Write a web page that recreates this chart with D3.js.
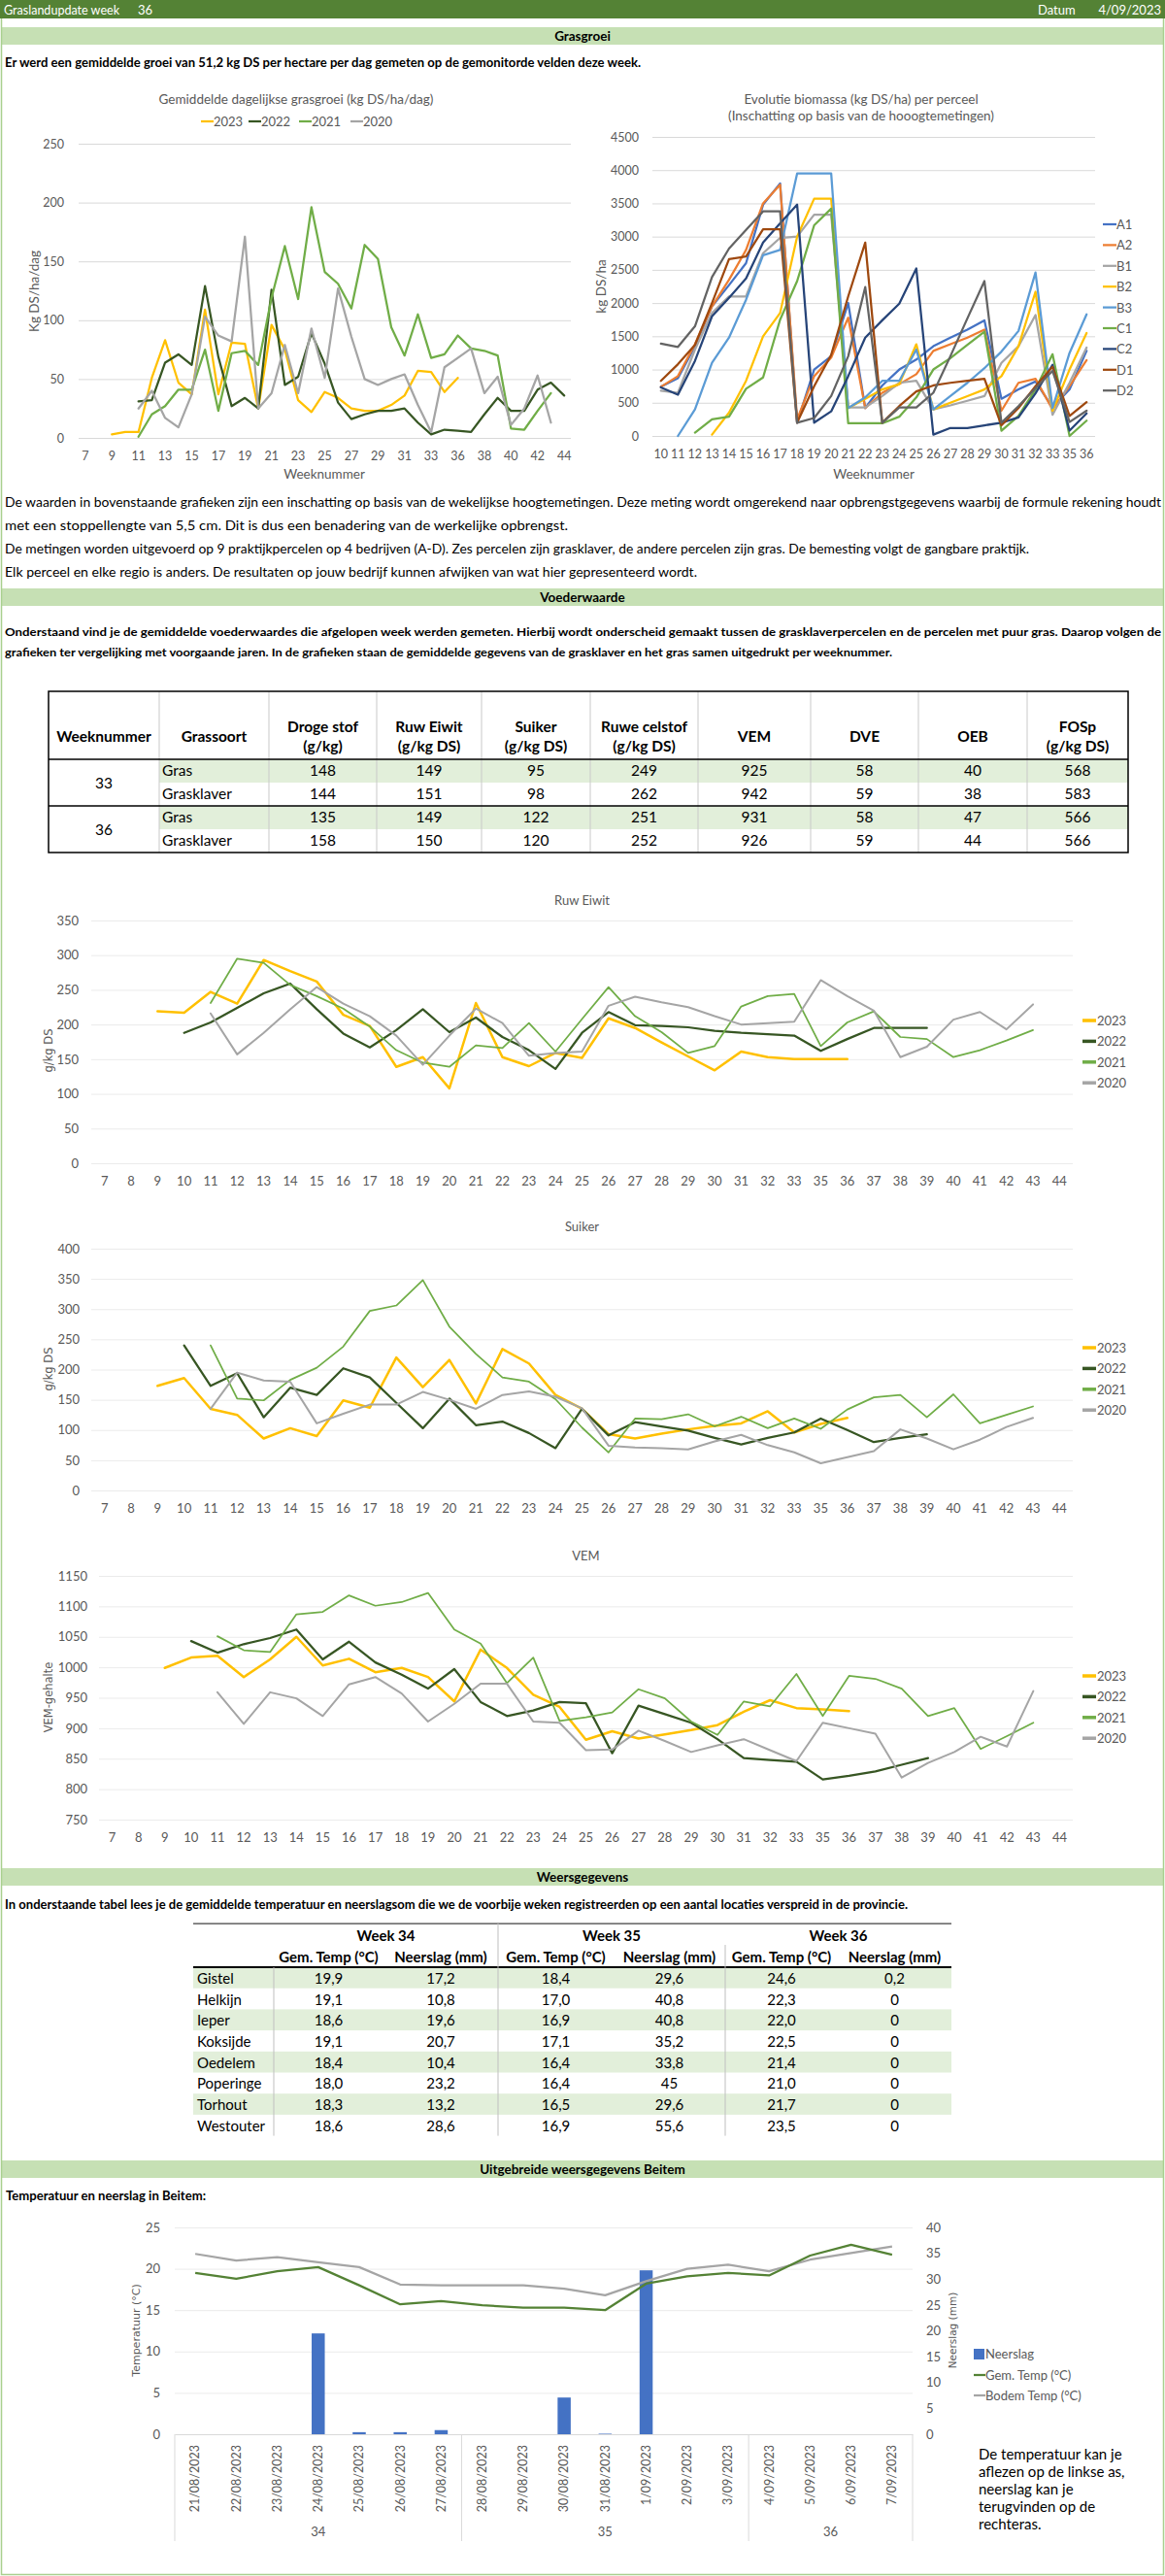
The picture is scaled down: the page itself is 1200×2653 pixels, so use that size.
<!DOCTYPE html>
<html>
<head>
<meta charset="utf-8">
<script src="https://cdn.jsdelivr.net/npm/d3@7"></script>
<style>
  body { margin: 0; background: #fff; }
  svg { display: block; }
</style>
</head>
<body>
<script>
// ---------- data ----------
const weeks = [7,8,9,10,11,12,13,14,15,16, 17,18,19,20,21,22,23,24,25,26, 27,28,29,30,31,32,33, 35,36,37,38,39,40,41,42,43,44];
const weekLabelsEven = [7,9,11,13,15,17,19,21,23,25,27,29,31,33,36,38,40,42,44];
const years = ["2023", "2022", "2021", "2020"];

const groei2023 = [null,null,3,5,5,51,83,47,37,109, 37,81,80,25,96,75,32,22,39,34, 25,23,23,28,36,57,56, 39,51,null,null,null,null,null,null,null,null];
const groei2022 = [null,null,null,null,31,32,64,71,62,129, 69,27,34,25,126,45,52,89,63,30, 16,20,23,23,25,13,3, 7,6,5,20,34,23,23,41,47,36];
const groei2021 = [null,null,null,null,1,20,27,41,41,75, 23,72,74,62,119,163,118,196,141,131, 110,164,152,94,70,105,68, 71,87,76,74,70,8,7,23,38,null];
const groei2020 = [null,null,null,null,25,40,17,9,37,103, 87,82,171,25,38,79,38,93,51,127, 86,50,45,50,54,28,5, 60,68,76,38,52,11,25,53,13,null];
const groeiTicks = [0,50,100,150,200,250];

const percWeeks = [10,11,12,13,14,15,16,17,18,19,20,21,22,23,24,25,26,27,28,29,30,31,32,33,35,36];
const percelen = ["A1","A2","B1","B2","B3","C1","C2","D1","D2"];
const bioA1 = [740,870,1350,1950,2270,2600,3480,3800,200,1000,1200,2000,420,760,1000,1150,1350,1480,1600,1740,560,700,820,430,700,1280];
const bioA2 = [740,900,1380,1950,2350,2800,3500,3780,250,900,1180,1780,420,650,780,930,1280,1380,1480,1600,380,800,860,400,750,1140];
const bioB1 = [680,650,1300,1850,2100,2100,2750,2980,3000,3330,3330,430,430,600,800,830,400,460,530,600,1100,1350,1820,320,800,1330];
const bioB2 = [null,null,null,20,350,830,1500,1850,3000,3570,3570,420,560,700,780,1380,400,500,600,700,900,1350,2170,380,1000,1550];
const bioB3 = [null,0,400,1100,1480,2050,2720,2800,3950,3950,3950,420,580,830,830,1300,400,600,800,1020,1270,1580,2460,420,1250,1830];
const bioC1 = [null,null,50,250,290,710,880,1750,2330,3170,3420,190,190,190,290,580,1000,1170,1370,1570,80,300,700,1230,0,230];
const bioC2 = [730,620,1130,1800,2080,2370,2910,3200,3480,200,370,900,1480,1740,1990,2520,20,120,120,160,200,280,640,1070,80,340];
const bioD1 = [830,1080,1370,2000,2660,2700,3110,3110,200,750,1220,2100,2910,200,450,670,760,800,830,860,160,420,750,1040,300,510];
const bioD2 = [1390,1340,1650,2390,2820,3100,3380,3380,200,270,600,1200,2240,200,430,430,650,1200,1770,2330,200,450,720,980,210,380];
const bioTicks = [0,500,1000,1500,2000,2500,3000,3500,4000,4500];

const eiwit2023 = [null,null,219,217,247,230,293,277,262,214, 198,139,153,108,231,153,140,159,152,209, 195,174,154,134,161,153,150, 150,150,null,null,null,null,null,null,null,null];
const eiwit2022 = [null,null,null,188,203,224,245,259,222,187, 167,192,222,189,210,182,163,136,188,218, 199,198,196,191,188,186,184, 162,179,195,195,195,null,null,null,null,null];
const eiwit2021 = [null,null,null,null,231,295,289,257,241,223, 197,163,145,139,170,166,202,161,208,254, 212,189,159,169,226,241,244, 169,203,219,182,179,153,163,177,192,null];
const eiwit2020 = [null,null,null,null,216,157,188,222,254,230, 212,184,142,184,223,202,155,159,161,227, 240,232,225,212,200,202,204, 264,241,220,153,168,207,218,193,229,null];
const eiwitTicks = [0,50,100,150,200,250,300,350];

const suiker2023 = [null,null,173,186,135,125,86,103,90,149, 137,220,171,216,144,234,210,158,135,93, 86,94,101,107,111,131,96, 110,120,null,null,null,null,null,null,null,null];
const suiker2022 = [null,null,null,240,173,194,121,170,158,202, 187,145,103,152,108,114,95,70,135,91, 113,106,99,87,76,87,96, 119,100,80,87,93,null,null,null,null,null];
const suiker2021 = [null,null,null,null,240,152,149,183,203,238, 297,306,348,271,226,187,180,151,104,63, 119,118,126,106,122,103,119, 102,134,154,158,121,159,111,125,139,null];
const suiker2020 = [null,null,null,null,135,195,182,180,111,127, 142,142,163,150,135,158,164,155,136,74, 71,70,68,81,92,75,63, 45,55,65,101,86,68,84,105,120,null];
const suikerTicks = [0,50,100,150,200,250,300,350,400];

const vem2023 = [null,null,999,1016,1019,984,1013,1050,1003,1014, 992,999,984,944,1029,999,955,935,881,895, 883,890,897,905,927,946,933, 931,928,null,null,null,null,null,null,null,null];
const vem2022 = [null,null,null,1043,1024,1038,1048,1062,1013,1042, 1008,988,965,997,943,920,929,943,941,859, 937,923,909,882,851,848,845, 816,822,829,840,851,null,null,null,null,null];
const vem2021 = [null,null,null,null,1051,1028,1025,1087,1091,1118, 1101,1107,1122,1062,1039,974,1016,912,918,926, 964,949,911,889,944,936,989, 920,986,981,965,920,933,866,887,909,null];
const vem2020 = [null,null,null,null,959,907,959,949,920,972, 984,957,911,940,973,973,911,909,864,865, 896,879,861,872,882,864,846, 909,900,891,819,843,861,886,870,961,null];
const vemTicks = [750,800,850,900,950,1000,1050,1100,1150];

const voederHeaders = [["Weeknummer"],["Grassoort"],["Droge stof","(g/kg)"],["Ruw Eiwit","(g/kg DS)"],["Suiker","(g/kg DS)"],["Ruwe celstof","(g/kg DS)"],["VEM"],["DVE"],["OEB"],["FOSp","(g/kg DS)"]];
const voederWeeks = ["33", "36"];
const grassoorten = ["Gras", "Grasklaver", "Gras", "Grasklaver"];
const voederWaarden = [
  [148,149,95,249,925,58,40,568],
  [144,151,98,262,942,59,38,583],
  [135,149,122,251,931,58,47,566],
  [158,150,120,252,926,59,44,566]
];

const weerWeken = ["Week 34", "Week 35", "Week 36"];
const weerKolommen = ["Gem. Temp (°C)", "Neerslag (mm)"];
const locaties = ["Gistel","Helkijn","Ieper","Koksijde","Oedelem","Poperinge","Torhout","Westouter"];
const temp34 = ["19,9","19,1","18,6","19,1","18,4","18,0","18,3","18,6"];
const neer34 = ["17,2","10,8","19,6","20,7","10,4","23,2","13,2","28,6"];
const temp35 = ["18,4","17,0","16,9","17,1","16,4","16,4","16,5","16,9"];
const neer35 = ["29,6","40,8","40,8","35,2","33,8","45","29,6","55,6"];
const temp36 = ["24,6","22,3","22,0","22,5","21,4","21,0","21,7","23,5"];
const neer36 = ["0,2","0","0","0","0","0","0","0"];

const beitemDatums = ["21/08/2023","22/08/2023","23/08/2023","24/08/2023","25/08/2023","26/08/2023","27/08/2023","28/08/2023","29/08/2023","30/08/2023","31/08/2023","1/09/2023","2/09/2023","3/09/2023","4/09/2023","5/09/2023","6/09/2023","7/09/2023"];
const beitemWeek = ["34","34","34","34","34","34","34","35","35","35","35","35","35","35","36","36","36","36"];
const neerslag = [0,0,0,19.5,0.4,0.4,0.8,0,0,7.1,0.1,31.7,0,0,0,0,0,0];
const gemTemp = [19.5,18.8,19.7,20.2,18.0,15.7,16.1,15.6,15.3,15.3,15.0,18.2,19.1,19.5,19.2,21.6,22.9,21.7];
const bodemTemp = [21.8,21.0,21.4,20.8,20.2,18.1,18.0,18.0,18.0,17.6,16.8,18.5,20.0,20.5,19.7,21.1,21.9,22.7];
const tempTicks = [0,5,10,15,20,25];
const neerTicks = [0,5,10,15,20,25,30,35,40];

// ---------- page ----------
const FONT = "Lato, 'Open Sans', sans-serif";
const GREY = "#595959";
const yearColor = { "2023": "#FFC000", "2022": "#375623", "2021": "#70AD47", "2020": "#A5A5A5" };
const percColor = ["#4472C4","#ED7D31","#A5A5A5","#FFC000","#5B9BD5","#70AD47","#264478","#9E480E","#636363"];

const svg = d3.select("body").append("svg")
  .attr("width", 1200).attr("height", 2653)
  .style("font-family", FONT);

svg.append("rect").attr("width", 1200).attr("height", 2653).attr("fill", "#fff");

function label(x, y, s, size, opt = {}) {
  const t = svg.append("text")
    .attr("x", x).attr("y", y)
    .attr("dominant-baseline", "central")
    .attr("text-anchor", opt.anchor || "start")
    .attr("fill", opt.fill || "#000")
    .attr("font-weight", opt.bold ? "bold" : null)
    .style("font-size", size + "px")
    .style("font-family", opt.family || FONT)
    .text(s);
  if (opt.len) t.attr("textLength", opt.len).attr("lengthAdjust", "spacingAndGlyphs");
  if (opt.rotate) t.attr("transform", `rotate(-90,${x},${y})`);
  return t;
}

function sectionBar(y, s) {
  svg.append("rect").attr("x", 2).attr("y", y).attr("width", 1196).attr("height", 18).attr("fill", "#C6E0B4");
  label(600, y + 9, s, 13.5, { anchor: "middle", bold: true });
}

// header
svg.append("rect").attr("x", 0).attr("y", 0).attr("width", 1200).attr("height", 19).attr("fill", "#548235");
label(4, 9.5, "Graslandupdate week", 13, { fill: "#fff", len: 119 });
label(142, 9.5, "36", 13, { fill: "#fff" });
label(1069, 9.5, "Datum", 13, { fill: "#fff" });
label(1196, 9.5, "4/09/2023", 13, { fill: "#fff", anchor: "end" });

sectionBar(28, "Grasgroei");
label(5, 64, "Er werd een gemiddelde groei van   51,2  kg DS per hectare per dag gemeten op de gemonitorde velden deze week.", 13.5, { bold: true, len: 655 });

// ---------- week line chart helper ----------
function weekChart(o) {
  const g = svg.append("g");
  const x = d3.scaleBand().domain(o.cats).range([o.left, o.right]);
  const y = d3.scaleLinear().domain(o.yDomain).range([o.bottom, o.top]);
  const cx = c => x(c) + x.bandwidth() / 2;

  g.append("g")
    .attr("transform", `translate(${o.left},0)`)
    .call(d3.axisLeft(y).tickValues(o.yTicks).tickFormat(d3.format("d"))
      .tickSize(-(o.right - o.left)).tickPadding(o.yPad))
    .call(a => a.select(".domain").remove())
    .call(a => a.selectAll("line").attr("stroke", o.grid).attr("stroke-width", 1))
    .call(a => a.selectAll("text").attr("fill", GREY))
    .attr("font-family", FONT).attr("font-size", o.tick);

  g.append("g")
    .attr("transform", `translate(0,${o.bottom})`)
    .call(d3.axisBottom(x).tickValues(o.xTicks).tickSize(0).tickPadding(o.xPad))
    .call(a => a.select(".domain").remove())
    .call(a => a.selectAll("text").attr("fill", GREY))
    .attr("font-family", FONT).attr("font-size", o.tick);

  const line = d3.line()
    .defined(d => d.v != null)
    .x(d => cx(d.c))
    .y(d => y(d.v));

  o.series.forEach(s => {
    g.append("path")
      .datum(o.cats.map((c, i) => ({ c, v: s.values[i] })))
      .attr("fill", "none")
      .attr("stroke", s.color)
      .attr("stroke-width", s.width)
      .attr("stroke-linejoin", "round")
      .attr("stroke-linecap", "round")
      .attr("d", line);
  });
  return { x, y };
}

// ---------- grasgroei ----------
label(305, 102, "Gemiddelde dagelijkse grasgroei (kg DS/ha/dag)", 13.5, { anchor: "middle", fill: GREY });
const groeiSeries = [groei2023, groei2022, groei2021, groei2020];
weekChart({
  cats: weeks, xTicks: weekLabelsEven, yTicks: groeiTicks, yDomain: [0, 250],
  left: 81, right: 588, top: 148, bottom: 451, yPad: 15, xPad: 14.5, tick: 12.5, grid: "#D9D9D9",
  series: years.map((yr, i) => ({ color: yearColor[yr], width: 2.25, values: groeiSeries[i] }))
});
const groeiLegendX = [207, 256, 308, 361];
years.forEach((yr, i) => {
  svg.append("line").attr("x1", groeiLegendX[i]).attr("x2", groeiLegendX[i] + 13)
    .attr("y1", 125).attr("y2", 125).attr("stroke", yearColor[yr]).attr("stroke-width", 2.25);
  label(groeiLegendX[i] + 13, 125, yr, 13, { fill: GREY });
});
label(334, 488, "Weeknummer", 13.5, { anchor: "middle", fill: GREY });
label(35, 300, "Kg DS/ha/dag", 13.5, { anchor: "middle", fill: GREY, rotate: true });

// ---------- biomassa ----------
label(887, 102, "Evolutie biomassa (kg DS/ha) per perceel", 13.5, { anchor: "middle", fill: GREY });
label(887, 119, "(Inschatting op basis van de hooogtemetingen)", 13.5, { anchor: "middle", fill: GREY });
const bioSeries = [bioA1, bioA2, bioB1, bioB2, bioB3, bioC1, bioC2, bioD1, bioD2];
weekChart({
  cats: percWeeks, xTicks: percWeeks, yTicks: bioTicks, yDomain: [0, 4500],
  left: 672, right: 1128, top: 141, bottom: 449, yPad: 14, xPad: 14.5, tick: 12.5, grid: "#D9D9D9",
  series: percelen.map((p, i) => ({ color: percColor[i], width: 2.25, values: bioSeries[i] }))
});
percelen.forEach((p, i) => {
  const ly = 231 + i * 21.4;
  svg.append("line").attr("x1", 1136).attr("x2", 1150).attr("y1", ly).attr("y2", ly)
    .attr("stroke", percColor[i]).attr("stroke-width", 2.25);
  label(1150, ly, p, 13, { fill: GREY });
});
label(900, 488, "Weeknummer", 13.5, { anchor: "middle", fill: GREY });
label(619, 295, "kg DS/ha", 13.5, { anchor: "middle", fill: GREY, rotate: true });

// ---------- texts ----------
label(5, 517, "De waarden in bovenstaande grafieken zijn een inschatting op basis van de wekelijkse hoogtemetingen. Deze meting wordt omgerekend naar opbrengstgegevens waarbij de formule rekening houdt", 13, { len: 1191 });
label(5, 541, "met een stoppellengte van 5,5 cm. Dit is dus een benadering van de werkelijke opbrengst.", 13, { len: 580 });
label(5, 565, "De metingen worden uitgevoerd op 9 praktijkpercelen op 4 bedrijven (A-D). Zes percelen zijn grasklaver, de andere percelen zijn gras. De bemesting volgt de gangbare praktijk.", 13, { len: 1055 });
label(5, 589, "Elk perceel en elke regio is anders. De resultaten op jouw bedrijf kunnen afwijken van wat hier gepresenteerd wordt.", 13, { len: 713 });

sectionBar(606, "Voederwaarde");
label(5, 650, "Onderstaand vind je de gemiddelde voederwaardes die afgelopen week werden gemeten. Hierbij wordt onderscheid gemaakt tussen de grasklaverpercelen en de percelen met puur gras. Daarop volgen de", 12, { bold: true, len: 1191 });
label(5, 671, "grafieken ter vergelijking met voorgaande jaren. In de grafieken staan de gemiddelde gegevens van de grasklaver en het gras samen uitgedrukt per weeknummer.", 12, { bold: true, len: 914 });

// ---------- voederwaarde table ----------
const colEdges = [50, 164, 277, 388, 496, 608, 719, 835, 946, 1058, 1162];
const tTop = 712, tHead = 782, rowH = 24;
[0, 2].forEach(r => {
  svg.append("rect").attr("x", colEdges[1]).attr("y", tHead + r * rowH)
    .attr("width", colEdges[10] - colEdges[1]).attr("height", rowH).attr("fill", "#E2EFDA");
});
colEdges.slice(1, 10).forEach(cx => {
  svg.append("line").attr("x1", cx).attr("x2", cx).attr("y1", tTop).attr("y2", tHead + 4 * rowH)
    .attr("stroke", "#C9C9C9").attr("stroke-width", 1);
});
svg.append("rect").attr("x", colEdges[0]).attr("y", tTop)
  .attr("width", colEdges[10] - colEdges[0]).attr("height", tHead + 4 * rowH - tTop)
  .attr("fill", "none").attr("stroke", "#000").attr("stroke-width", 1.5);
[tHead, tHead + 2 * rowH].forEach(ly => {
  svg.append("line").attr("x1", colEdges[0]).attr("x2", colEdges[10]).attr("y1", ly).attr("y2", ly)
    .attr("stroke", "#000").attr("stroke-width", 1.5);
});
voederHeaders.forEach((h, i) => {
  const cx = (colEdges[i] + colEdges[i + 1]) / 2;
  if (h.length === 1) label(cx, 758, h[0], 15.5, { anchor: "middle", bold: true });
  else h.forEach((s, j) => label(cx, 748 + j * 20, s, 15.5, { anchor: "middle", bold: true }));
});
voederWeeks.forEach((w, i) => {
  label((colEdges[0] + colEdges[1]) / 2, tHead + (2 * i + 1) * rowH, w, 15.5, { anchor: "middle" });
});
grassoorten.forEach((s, r) => {
  const ry = tHead + r * rowH + rowH / 2 - 1;
  label(colEdges[1] + 3, ry, s, 15.5);
  voederWaarden[r].forEach((v, j) => {
    label((colEdges[j + 2] + colEdges[j + 3]) / 2, ry, v, 15.5, { anchor: "middle" });
  });
});

// ---------- lower line charts ----------
function lowerChart(o) {
  label((o.left + 1105) / 2, o.titleY, o.title, 13, { anchor: "middle", fill: GREY });
  weekChart({
    cats: weeks, xTicks: weeks, yTicks: o.ticks, yDomain: o.domain,
    left: o.left, right: 1105, top: o.top, bottom: o.bottom, yPad: o.yPad, xPad: 14, tick: 13, grid: "#EBEBEB",
    series: years.map((yr, i) => ({ color: yearColor[yr], width: [2.5, 2.25, 1.75, 2][i], values: o.series[i] }))
  });
  years.forEach((yr, i) => {
    const ly = o.legendY + i * 21.4;
    svg.append("line").attr("x1", 1115).attr("x2", 1129).attr("y1", ly).attr("y2", ly)
      .attr("stroke", yearColor[yr]).attr("stroke-width", 3.5);
    label(1130, ly, yr, 13, { fill: GREY });
  });
  label(50, o.yTitleY, o.yTitle, 11.5, { anchor: "middle", fill: GREY, rotate: true, family: "'DejaVu Sans', sans-serif" });
}

lowerChart({ title: "Ruw Eiwit", titleY: 927, left: 94, top: 948, bottom: 1198, yPad: 13,
  ticks: eiwitTicks, domain: [0, 350], series: [eiwit2023, eiwit2022, eiwit2021, eiwit2020],
  legendY: 1051, yTitle: "g/kg DS", yTitleY: 1082 });
lowerChart({ title: "Suiker", titleY: 1263, left: 94, top: 1286, bottom: 1535, yPad: 12,
  ticks: suikerTicks, domain: [0, 400], series: [suiker2023, suiker2022, suiker2021, suiker2020],
  legendY: 1388, yTitle: "g/kg DS", yTitleY: 1410 });
lowerChart({ title: "VEM", titleY: 1602, left: 102, top: 1623, bottom: 1874, yPad: 12,
  ticks: vemTicks, domain: [750, 1150], series: [vem2023, vem2022, vem2021, vem2020],
  legendY: 1726, yTitle: "VEM-gehalte", yTitleY: 1748 });

// ---------- weersgegevens ----------
sectionBar(1924, "Weersgegevens");
label(5, 1961, "In onderstaande tabel lees je de gemiddelde temperatuur en neerslagsom die we de voorbije weken registreerden op een aantal locaties verspreid in de provincie.", 13, { bold: true, len: 930 });

const wx = [199, 282, 395, 513, 632, 747, 863, 980];
const wTop = 1981, wHead = 2026, wRow = 21.7;
locaties.forEach((loc, r) => {
  if (r % 2 === 0) {
    svg.append("rect").attr("x", wx[0]).attr("y", wHead + r * wRow).attr("width", wx[7] - wx[0])
      .attr("height", wRow).attr("fill", "#E2EFDA");
  }
});
const wBottom = wHead + locaties.length * wRow;
svg.append("line").attr("x1", wx[0]).attr("x2", wx[7]).attr("y1", wTop).attr("y2", wTop)
  .attr("stroke", "#404040").attr("stroke-width", 1.25);
svg.append("line").attr("x1", wx[0]).attr("x2", wx[7]).attr("y1", wHead).attr("y2", wHead)
  .attr("stroke", "#000").attr("stroke-width", 2);
[[wx[1], wHead], [wx[3], wTop], [wx[5], 2003]].forEach(([lx, ly]) => {
  svg.append("line").attr("x1", lx).attr("x2", lx).attr("y1", ly).attr("y2", wBottom)
    .attr("stroke", "#BFBFBF").attr("stroke-width", 1);
});
weerWeken.forEach((w, i) => {
  label((wx[1 + 2 * i] + wx[3 + 2 * i]) / 2, 1993, w, 15, { anchor: "middle", bold: true });
  weerKolommen.forEach((k, j) => {
    label((wx[1 + 2 * i + j] + wx[2 + 2 * i + j]) / 2, 2015, k, 15, { anchor: "middle", bold: true });
  });
});
const weerCols = [temp34, neer34, temp35, neer35, temp36, neer36];
locaties.forEach((loc, r) => {
  const ry = wHead + r * wRow + wRow / 2;
  label(wx[0] + 4, ry, loc, 15);
  weerCols.forEach((col, j) => label((wx[1 + j] + wx[2 + j]) / 2, ry, col[r], 15, { anchor: "middle" }));
});

// ---------- Beitem ----------
sectionBar(2225, "Uitgebreide weersgegevens Beitem");
label(6, 2261, "Temperatuur en neerslag in Beitem:", 13, { bold: true, len: 206 });

const bx = d3.scaleBand().domain(beitemDatums).range([180, 940]);
const byT = d3.scaleLinear().domain([0, 25]).range([2507, 2294]);
const byN = d3.scaleLinear().domain([0, 40]).range([2507, 2294]);
const bcx = d => bx(d) + bx.bandwidth() / 2;

svg.append("g").attr("transform", "translate(180,0)")
  .call(d3.axisLeft(byT).tickValues(tempTicks).tickSize(-760).tickPadding(15))
  .call(a => a.select(".domain").remove())
  .call(a => a.selectAll("line").attr("stroke", "#EBEBEB"))
  .call(a => a.selectAll("text").attr("fill", GREY))
  .attr("font-family", FONT).attr("font-size", 13);
svg.append("g").attr("transform", "translate(940,0)")
  .call(d3.axisRight(byN).tickValues(neerTicks).tickSize(0).tickPadding(14))
  .call(a => a.select(".domain").remove())
  .call(a => a.selectAll("text").attr("fill", GREY))
  .attr("font-family", FONT).attr("font-size", 13);
svg.append("g").attr("transform", "translate(0,2507)")
  .call(d3.axisBottom(bx).tickSize(0))
  .call(a => a.select(".domain").attr("stroke", "#D9D9D9"))
  .call(a => a.selectAll("text")
    .attr("fill", GREY).attr("y", 0).attr("x", -11).attr("dy", "0.35em")
    .attr("transform", "rotate(-90)").attr("text-anchor", "end"))
  .attr("font-family", FONT).attr("font-size", 12.5);

// week grouping under the dates
const groupStarts = beitemDatums.filter((d, i) => i === 0 || beitemWeek[i] !== beitemWeek[i - 1]);
groupStarts.concat([null]).forEach(d => {
  const lx = d ? bx(d) : bx.range()[1];
  svg.append("line").attr("x1", lx).attr("x2", lx).attr("y1", 2507).attr("y2", 2617)
    .attr("stroke", "#D9D9D9").attr("stroke-width", 1);
});
Array.from(new Set(beitemWeek)).forEach(w => {
  const ds = beitemDatums.filter((d, i) => beitemWeek[i] === w);
  label((bx(ds[0]) + bx(ds[ds.length - 1]) + bx.bandwidth()) / 2, 2607, w, 13, { anchor: "middle", fill: GREY });
});

const barW = bx.bandwidth() * 0.32;
svg.append("g").selectAll("rect")
  .data(beitemDatums.map((d, i) => ({ d, v: neerslag[i] })))
  .join("rect")
  .attr("x", p => bcx(p.d) - barW / 2)
  .attr("y", p => byN(p.v))
  .attr("width", barW)
  .attr("height", p => byN(0) - byN(p.v))
  .attr("fill", "#4472C4");

const tline = d3.line().x(p => bcx(p.d)).y(p => byT(p.v));
[[bodemTemp, "#A5A5A5"], [gemTemp, "#548235"]].forEach(([vals, col]) => {
  svg.append("path")
    .datum(beitemDatums.map((d, i) => ({ d, v: vals[i] })))
    .attr("fill", "none").attr("stroke", col).attr("stroke-width", 2.25)
    .attr("stroke-linejoin", "round").attr("d", tline);
});

label(140, 2400, "Temperatuur (°C)", 11, { anchor: "middle", fill: GREY, rotate: true, family: "'DejaVu Sans', sans-serif" });
label(981, 2400, "Neerslag (mm)", 10.5, { anchor: "middle", fill: GREY, rotate: true, family: "'DejaVu Sans', sans-serif" });

svg.append("rect").attr("x", 1003).attr("y", 2419).attr("width", 11).attr("height", 11).attr("fill", "#4472C4");
label(1015, 2424, "Neerslag", 13, { fill: GREY });
svg.append("line").attr("x1", 1003).attr("x2", 1015).attr("y1", 2446).attr("y2", 2446).attr("stroke", "#548235").attr("stroke-width", 2.25);
label(1015, 2446, "Gem. Temp (°C)", 13, { fill: GREY });
svg.append("line").attr("x1", 1003).attr("x2", 1015).attr("y1", 2467).attr("y2", 2467).attr("stroke", "#A5A5A5").attr("stroke-width", 2.25);
label(1015, 2467, "Bodem Temp (°C)", 13, { fill: GREY });

["De temperatuur kan je", "aflezen op de linkse as,", "neerslag kan je", "terugvinden op de", "rechteras."]
  .forEach((s, i) => label(1008, 2527 + i * 18, s, 15));

// page frame
svg.append("path")
  .attr("d", "M1.5,19 V2651.5 H1198.5 V19")
  .attr("fill", "none").attr("stroke", "#A9D08E").attr("stroke-width", 1.5);
</script>
</body>
</html>
